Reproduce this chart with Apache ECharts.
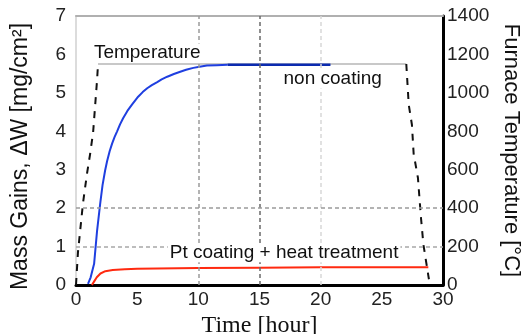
<!DOCTYPE html>
<html><head><meta charset="utf-8">
<script src="https://cdn.jsdelivr.net/npm/echarts@6/dist/echarts.min.js"></script>
<style>html,body{margin:0;padding:0;background:#fff}#c{width:521px;height:334px}</style>
</head><body><div id="c"></div>
<script>
// ---- data ----
const nonCoatTime = [0.98, 1.2, 1.48, 1.72, 1.97, 2.17, 2.38, 2.54, 2.75, 2.95, 3.15, 3.36, 3.6, 3.85, 4.2, 4.59, 5.08, 5.45, 5.82, 6.2, 6.64, 7.0, 7.46, 8.0, 8.52, 9.0, 9.59, 10.1, 10.7, 11.5, 12.4];
const nonCoatGain = [0.03, 0.2, 0.55, 1.4, 2.1, 2.6, 2.98, 3.22, 3.48, 3.68, 3.85, 4.0, 4.18, 4.34, 4.53, 4.7, 4.9, 5.02, 5.12, 5.2, 5.28, 5.35, 5.42, 5.49, 5.55, 5.6, 5.65, 5.68, 5.71, 5.72, 5.73];
const nonCoatFlatTime = [12.4, 20.8];
const nonCoatFlatGain = [5.73, 5.73];
const ptTime = [1.3, 1.5, 1.7, 2.0, 2.4, 3.0, 4.0, 5.0, 10.0, 15.0, 20.0, 28.8];
const ptGain = [0.0, 0.1, 0.2, 0.3, 0.36, 0.39, 0.41, 0.42, 0.44, 0.45, 0.46, 0.46];
const tempUpTime = [0, 0.16, 0.57, 0.9, 1.15, 1.4, 1.72, 1.8];
const tempUp = [0, 170, 425, 580, 680, 795, 1065, 1150];
const tempHoldTime = [1.8, 27.0];
const tempHold = [1150, 1150];
const tempDownTime = [27.0, 27.2, 27.46, 27.6, 27.95, 28.2, 28.4, 28.8, 28.85];
const tempDown = [1150, 938, 834, 683, 558, 350, 210, 49, 30];
const gridX = [10, 15, 20];
const gridY = [1, 2];
const xTicks = {min: 0, max: 30, interval: 5};
const leftTicks = {min: 0, max: 7, interval: 1};
const rightTicks = {min: 0, max: 1400, interval: 200};
const notes = [
  {text: 'Temperature', t: 1.3, v: 6.04},
  {text: 'non coating', t: 16.8, v: 5.36},
  {text: 'Pt coating + heat treatment', t: 7.5, v: 0.84}
];
// ---- build ----
const zip = (a, b) => a.map((x, i) => [x, b[i]]);
const SANS = 'Liberation Sans, Arial, sans-serif';
const SERIF = 'Liberation Serif, Times New Roman, serif';
const gridColorsX = ['#9a9a9a', '#6a6a6a', '#d8d8d8'];
const gridColorsY = ['#a8a8a8', '#9a9a9a'];
const chart = echarts.init(document.getElementById('c'), null, {renderer: 'canvas'});
chart.setOption({
  animation: false,
  backgroundColor: '#fff',
  grid: {left: 76, right: 78, top: 16, bottom: 49, containLabel: false, outerBoundsMode: 'none'},
  xAxis: [{
    type: 'value', min: xTicks.min, max: xTicks.max, interval: xTicks.interval,
    name: 'Time [hour]', nameLocation: 'middle', nameGap: 26,
    nameTextStyle: {fontFamily: SERIF, fontSize: 24, color: '#111'},
    axisLine: {onZero: false, lineStyle: {color: '#000', width: 3}},
    axisTick: {show: false}, splitLine: {show: false},
    axisLabel: {fontFamily: SANS, fontSize: 19, color: '#222', margin: 5}
  }, {
    type: 'value', position: 'top', min: xTicks.min, max: xTicks.max,
    axisLine: {show: true, onZero: false, lineStyle: {color: '#b0b0b0', width: 2}},
    axisTick: {show: false}, axisLabel: {show: false}, splitLine: {show: false}
  }],
  yAxis: [{
    type: 'value', position: 'left', min: leftTicks.min, max: leftTicks.max, interval: leftTicks.interval,
    name: 'Mass Gains, ΔW [mg/cm²]', nameLocation: 'middle', nameGap: 44, nameRotate: 90,
    nameTextStyle: {fontFamily: SANS, fontSize: 23, color: '#111', padding: [0, 12, 0, 0]},
    axisLine: {show: true, onZero: false, lineStyle: {color: '#dcdcdc', width: 2}},
    axisTick: {show: false}, splitLine: {show: false},
    axisLabel: {fontFamily: SANS, fontSize: 19, color: '#222', margin: 10}
  }, {
    type: 'value', position: 'right', min: rightTicks.min, max: rightTicks.max, interval: rightTicks.interval,
    name: 'Furnace Temperature [°C]', nameLocation: 'middle', nameGap: 52, nameRotate: -90,
    nameTextStyle: {fontFamily: SANS, fontSize: 22, color: '#111'},
    axisLine: {show: true, onZero: false, lineStyle: {color: '#000', width: 3}},
    axisTick: {show: false}, splitLine: {show: false},
    axisLabel: {fontFamily: SANS, fontSize: 19, color: '#222', margin: 4, formatter: v => String(v)}
  }],
  series: [
    {
      type: 'line', data: [], z: 1, silent: true,
      markLine: {
        silent: true, symbol: 'none', label: {show: false}, animation: false,
        data: gridX.map((x, i) => ({xAxis: x, lineStyle: {color: gridColorsX[i], type: [4, 3], width: 1.5}}))
          .concat(gridY.map((y, i) => ({yAxis: y, lineStyle: {color: gridColorsY[i], type: [4, 3], width: 1.5}})))
      }
    },
    {type: 'line', yAxisIndex: 1, data: zip(tempHoldTime, tempHold), symbol: 'none', z: 2,
     lineStyle: {color: '#c8c8c8', width: 2}},
    {type: 'line', yAxisIndex: 1, data: zip(tempUpTime, tempUp), symbol: 'none', z: 3,
     lineStyle: {color: '#111', width: 2, type: [7, 7]}},
    {type: 'line', yAxisIndex: 1, data: zip(tempDownTime, tempDown), symbol: 'none', z: 3,
     lineStyle: {color: '#111', width: 2, type: [7, 7]}},
    {type: 'line', data: zip(nonCoatTime, nonCoatGain), symbol: 'none', z: 4,
     lineStyle: {color: '#1f3fe0', width: 2}},
    {type: 'line', data: zip(nonCoatFlatTime, nonCoatFlatGain), symbol: 'none', z: 4,
     lineStyle: {color: '#0b2bb0', width: 2.5}},
    {type: 'line', data: zip(ptTime, ptGain), symbol: 'none', z: 4,
     lineStyle: {color: '#ff2a10', width: 2}},
    {
      type: 'line', data: [], z: 6, silent: true,
      markPoint: {
        silent: true, symbol: 'circle', symbolSize: 0, animation: false,
        data: notes.map(n => ({coord: [n.t, n.v], value: n.text})),
        label: {
          show: true, position: 'inside', align: 'left', verticalAlign: 'middle',
          formatter: p => p.value, fontFamily: SANS, fontSize: 19, color: '#111',
          backgroundColor: '#fff', padding: [0, 2]
        }
      }
    }
  ]
});
</script>
</body></html>
